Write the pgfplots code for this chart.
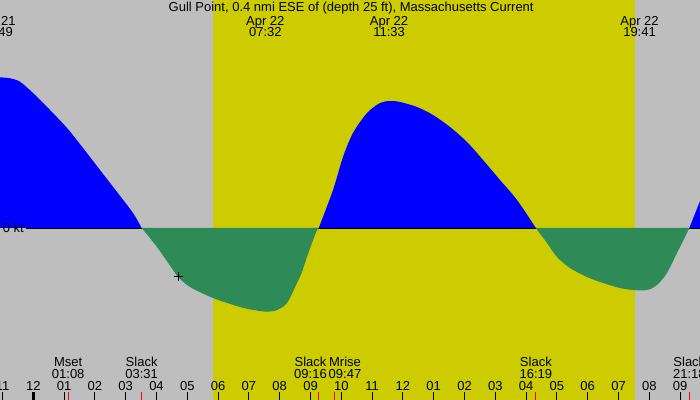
\documentclass[border=0pt]{standalone}
\usepackage{fontspec}
\setmainfont{Liberation Sans}
\usepackage{pgfplots}
\pgfplotsset{compat=1.18}

\definecolor{nightgray}{RGB}{190,190,190}
\definecolor{dayyellow}{RGB}{204,204,0}
\definecolor{ebbgreen}{RGB}{46,139,87}
\definecolor{floodblue}{RGB}{0,0,255}

\begin{document}
\begin{tikzpicture}[lab/.style={font=\fontsize{13bp}{15bp}\selectfont, inner sep=0pt, anchor=base}]
\begin{axis}[
    width=700bp, height=400bp, scale only axis,
    xmin=-1.0812, xmax=21.6461,
    ymin=-1.72, ymax=2.28,
    axis line style={draw=none},
    axis background/.style={fill=nightgray},
    axis on top,
    ytick=\empty,
    xtick={-1,...,21},
    xticklabels={11,12,01,02,03,04,05,06,07,08,09,10,11,12,01,02,03,04,05,06,07,08,09},
    xtick pos=bottom,
    tick align=inside,
    major tick length=8bp,
    tick style={black, line width=1bp},
    xticklabel style={font=\fontsize{13bp}{15bp}\selectfont, anchor=base, yshift=10bp, inner sep=0pt},
    extra x ticks={0},
    extra x tick labels={},
    extra x tick style={major tick style={line width=3bp}},
    /pgf/number format/assume math mode=true,
    clip=true,
]
% daylight
\addplot[draw=none, fill=dayyellow] coordinates {(5.834,-1.72) (5.834,2.28) (19.536,2.28) (19.536,-1.72)} -- cycle;

% flood (positive)
\addplot[draw=none, fill=floodblue, smooth, tension=0.5] coordinates {
    (-1.081,1.507) (-0.756,1.497) (-0.432,1.463) (-0.010,1.35) (0.542,1.18)
    (1.094,1.00) (1.614,0.80) (2.166,0.58) (2.718,0.36) (3.237,0.15) (3.517,0)
} \closedcycle;
\addplot[draw=none, fill=floodblue, smooth, tension=0.5] coordinates {
    (9.267,0) (9.731,0.38) (10.055,0.71) (10.380,0.95) (10.834,1.15) (11.256,1.25)
    (11.581,1.27) (11.906,1.26) (12.458,1.21) (12.977,1.13) (13.529,1.01)
    (14.081,0.86) (14.601,0.68) (15.153,0.48) (15.705,0.28) (16.317,0)
} \closedcycle;
\addplot[draw=none, fill=floodblue] coordinates {
    (21.300,0) (21.646,0.27)
} \closedcycle;

% zero line
\addplot[black, line width=1bp] coordinates {(-0.237,-0.005) (21.646,-0.005)};

% ebb (negative)
\addplot[draw=none, fill=ebbgreen, smooth, tension=0.5] coordinates {
    (3.517,0) (4.016,-0.19) (4.536,-0.42) (4.698,-0.49) (5.088,-0.59)
    (5.834,-0.70) (6.711,-0.79) (7.150,-0.82) (7.588,-0.837) (7.912,-0.82)
    (8.237,-0.75) (8.562,-0.55) (8.724,-0.44) (8.886,-0.29) (9.049,-0.15)
    (9.211,-0.02) (9.267,0)
} \closedcycle;
\addplot[draw=none, fill=ebbgreen, smooth, tension=0.5] coordinates {
    (16.317,0) (16.679,-0.15) (17.003,-0.29) (17.425,-0.40) (17.977,-0.49)
    (18.497,-0.55) (19.049,-0.60) (19.471,-0.62) (19.925,-0.62) (20.250,-0.57)
    (20.575,-0.45) (20.899,-0.25) (21.159,-0.09) (21.300,0)
} \closedcycle;

% current time marker
\addplot[only marks, mark=+, mark size=4.5bp, black, line width=1bp] coordinates {(4.698,-0.49)};

% event ticks (moon, slack)
\foreach \t in {1.133,3.517,9.267,9.783,16.317,21.300} {
    \edef\temp{\noexpand\draw[red, line width=1bp] (axis cs:\t,-1.64) -- (axis cs:\t,-1.72);}
    \temp
}

\coordinate (sw) at (rel axis cs:0,0);
\coordinate (ne) at (rel axis cs:1,1);

% title and max current times
\node[lab] at (axis cs:10.320,2.163) {Gull Point, 0.4 nmi ESE of (depth 25 ft), Massachusetts Current};
\node[lab] at (axis cs:-1.195,2.03) {Apr 21};
\node[lab] at (axis cs:-1.195,1.913) {22:49};
\node[lab] at (axis cs:7.533,2.03) {Apr 22};
\node[lab] at (axis cs:7.533,1.913) {07:32};
\node[lab] at (axis cs:11.550,2.03) {Apr 22};
\node[lab] at (axis cs:11.550,1.913) {11:33};
\node[lab] at (axis cs:19.683,2.03) {Apr 22};
\node[lab] at (axis cs:19.683,1.913) {19:41};

\node[lab, anchor=base west] at (axis cs:-0.994,-0.043) {0 kt};

% bottom events
\node[lab] at (axis cs:1.133,-1.387) {Mset};
\node[lab] at (axis cs:1.133,-1.503) {01:08};
\node[lab] at (axis cs:3.517,-1.387) {Slack};
\node[lab] at (axis cs:3.517,-1.503) {03:31};
\node[lab] at (axis cs:9.000,-1.387) {Slack};
\node[lab] at (axis cs:9.000,-1.503) {09:16};
\node[lab] at (axis cs:10.120,-1.387) {Mrise};
\node[lab] at (axis cs:10.120,-1.503) {09:47};
\node[lab] at (axis cs:16.317,-1.387) {Slack};
\node[lab] at (axis cs:16.317,-1.503) {16:19};
\node[lab] at (axis cs:21.300,-1.387) {Slack};
\node[lab] at (axis cs:21.300,-1.503) {21:18};
\end{axis}
\pgfresetboundingbox
\useasboundingbox (sw) rectangle (ne);
\end{tikzpicture}
\end{document}
